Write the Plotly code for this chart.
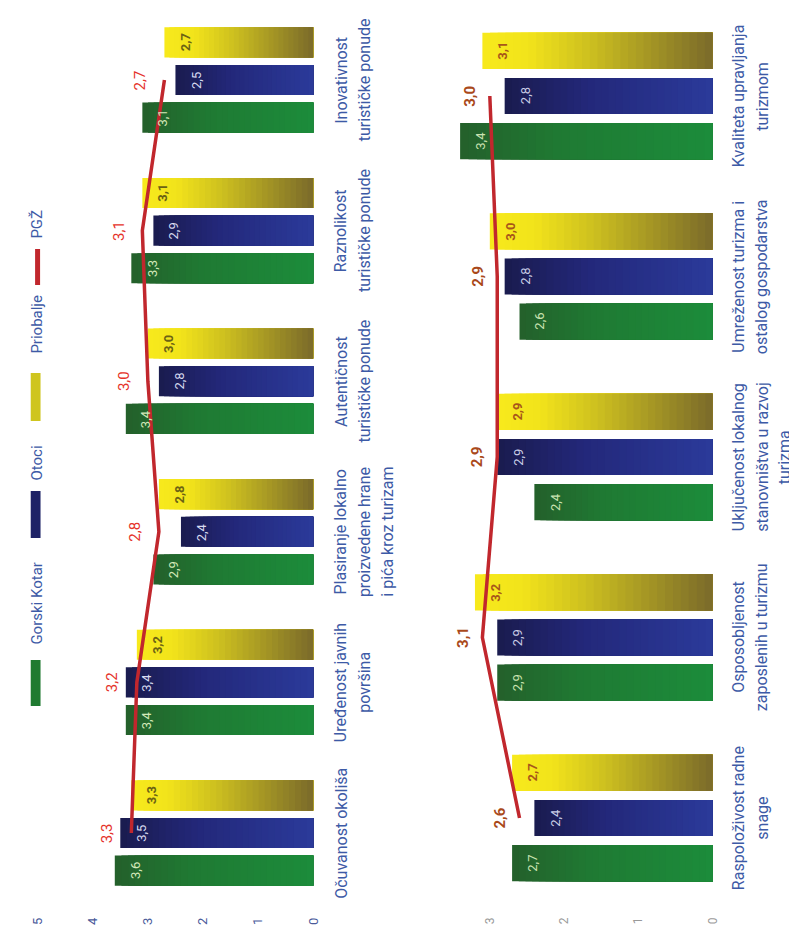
import plotly.graph_objects as go

# ---------------- data ----------------
series_names = ["Gorski Kotar", "Otoci", "Priobalje"]
line_name = "PGŽ"

cats_a = ["Očuvanost okoliša", "Uređenost javnih<br>površina",
          "Plasiranje lokalno<br>proizvedene hrane<br>i pića kroz turizam",
          "Autentičnost<br>turističke ponude", "Raznolikost<br>turističke ponude",
          "Inovativnost<br>turističke ponude"]
gk_a = [3.6, 3.4, 2.9, 3.4, 3.3, 3.1]
ot_a = [3.5, 3.4, 2.4, 2.8, 2.9, 2.5]
pr_a = [3.3, 3.2, 2.8, 3.0, 3.1, 2.7]
pgz_a = [3.3, 3.2, 2.8, 3.0, 3.1, 2.7]

cats_b = ["Raspoloživost radne<br>snage", "Osposobljenost<br>zaposlenih u turizmu",
          "Uključenost lokalnog<br>stanovništva u razvoj<br>turizma",
          "Umreženost turizma i<br>ostalog gospodarstva",
          "Kvaliteta upravljanja<br>turizmom"]
gk_b = [2.7, 2.9, 2.4, 2.6, 3.4]
ot_b = [2.4, 2.9, 2.9, 2.8, 2.8]
pr_b = [2.7, 3.2, 2.9, 3.0, 3.1]
pgz_b = [2.6, 3.1, 2.9, 2.9, 3.0]

ticks_a = [0, 1, 2, 3, 4, 5]
ticks_b = [0, 1, 2, 3]

# ---------------- styling ----------------
W, H = 797, 935
FONT = "Roboto, 'Open Sans', sans-serif"
LABEL_BLUE = "#3d5aa6"

def px(x):
    return x / W

def py(y):
    return 1 - y / H

def hex2rgb(h):
    h = h.lstrip("#")
    return tuple(int(h[i:i + 2], 16) for i in (0, 2, 4))

def interp(stops, t):
    for (p0, c0), (p1, c1) in zip(stops[:-1], stops[1:]):
        if p0 <= t <= p1:
            u = 0 if p1 == p0 else (t - p0) / (p1 - p0)
            a, b = hex2rgb(c0), hex2rgb(c1)
            return "rgb(%d,%d,%d)" % tuple(round(a[i] + (b[i] - a[i]) * u) for i in range(3))
    return stops[-1][1]

# gradient: position 0 = base (value 0), 1 = tip
grad = {
    "Gorski Kotar": [(0, "#1c8c3b"), (0.6, "#1f7a33"), (1, "#24602b")],
    "Otoci": [(0, "#2b3a9a"), (0.6, "#23287a"), (1, "#1a1b4e")],
    "Priobalje": [(0, "#7a6a2a"), (0.55, "#cfc21f"), (0.8, "#f2e31b"), (1, "#f7ea1c")],
}
offsets = {"Gorski Kotar": -0.35, "Otoci": -0.10, "Priobalje": 0.15}
BAR_W = 0.20
N_SEG = 30

fig = go.Figure()

panels = [
    dict(cats=cats_a, vals=[gk_a, ot_a, pr_a], pgz=pgz_a, xa="x", ya="y",
         lab_x=[331, 355, 379], bar_txt={"Gorski Kotar": "#d3e8b8", "Otoci": "#d8dbf0", "Priobalje": "#6b6214"},
         pgz_col="#e5332a", pgz_bold=False, pgz_shift=-24),
    dict(cats=cats_b, vals=[gk_b, ot_b, pr_b], pgz=pgz_b, xa="x2", ya="y2",
         lab_x=[736, 760, 783], bar_txt={"Gorski Kotar": "#c9e2b0", "Otoci": "#c9cde6", "Priobalje": "#a8561a"},
         pgz_col="#a9491a", pgz_bold=True, pgz_shift=-20),
]

annotations = []
for pn in panels:
    names = [c.replace("<br>", " ") for c in pn["cats"]]
    xref, yref = pn["xa"], pn["ya"]
    for sname, vals in zip(series_names, pn["vals"]):
        for k in range(N_SEG, 0, -1):
            t = (k - 0.5) / N_SEG
            fig.add_trace(go.Bar(
                orientation="h", x=[v * k / N_SEG for v in vals], y=names,
                base=0, offset=offsets[sname], width=BAR_W,
                marker=dict(color=interp(grad[sname], t), line=dict(width=0)),
                xaxis=xref, yaxis=yref, showlegend=False,
                name=sname, hoverinfo="skip" if k < N_SEG else None,
                customdata=vals, hovertemplate=sname + ": %{customdata}<extra></extra>",
            ))
        for i, v in enumerate(vals):
            annotations.append(dict(
                x=v, y=i + offsets[sname] + BAR_W / 2, xref=xref, yref=yref,
                text=("<b>%s</b>" if sname == "Priobalje" else "%s") % f"{v:.1f}".replace(".", ","),
                textangle=-90, showarrow=False, xanchor="left", yanchor="middle",
                xshift=11, font=dict(family=FONT, size=13, color=pn["bar_txt"][sname]),
            ))
    fig.add_trace(go.Scatter(
        x=pn["pgz"], y=names, mode="lines", name=line_name,
        line=dict(color="#c1272d", width=3.5), xaxis=xref, yaxis=yref,
        showlegend=False,
    ))
    for i, v in enumerate(pn["pgz"]):
        txt = f"{v:.1f}".replace(".", ",")
        annotations.append(dict(
            x=v, y=i, xref=xref, yref=yref,
            text=("<b>%s</b>" % txt) if pn["pgz_bold"] else txt,
            textangle=-90, showarrow=False, xanchor="center", yanchor="middle",
            xshift=pn["pgz_shift"], font=dict(family=FONT, size=15, color=pn["pgz_col"]),
        ))
    for i, c in enumerate(pn["cats"]):
        for j, line in enumerate(c.split("<br>")):
            annotations.append(dict(
                x=px(pn["lab_x"][j]), xref="paper", y=i, yref=yref,
                text=line, textangle=-90, showarrow=False,
                xanchor="center", yanchor="middle",
                font=dict(family=FONT, size=16, color=LABEL_BLUE),
            ))

# ---------------- manual rotated legend ----------------
shapes = []
leg_swatches = [("Gorski Kotar", 652, 698, "#1f7a30"), ("Otoci", 483, 530, "#1e2266"),
                ("Priobalje", 365, 413, "#cfc51e")]
for nm, y0, y1, col in leg_swatches:
    shapes.append(dict(type="rect", xref="paper", yref="paper",
                       x0=px(15), x1=px(25), y0=py(y1), y1=py(y0),
                       fillcolor=col, line=dict(width=0)))
shapes.append(dict(type="line", xref="paper", yref="paper",
                   x0=px(22), x1=px(22), y0=py(277), y1=py(241),
                   line=dict(color="#c1272d", width=5)))
for nm, yc in [("Gorski Kotar", 595), ("Otoci", 455), ("Priobalje", 316), (line_name, 216)]:
    annotations.append(dict(x=px(21), y=py(yc), xref="paper", yref="paper", text=nm,
                            textangle=-90, showarrow=False, xanchor="center", yanchor="middle",
                            font=dict(family=FONT, size=15, color=LABEL_BLUE)))

# ---------------- axes ----------------
T, B = 4, 906
ydom = [py(B), py(T)]
ax_common = dict(showgrid=False, zeroline=False, showline=False, ticks="", tickangle=-90)

fig.update_layout(
    width=W, height=H, margin=dict(l=0, r=0, t=0, b=0),
    paper_bgcolor="white", plot_bgcolor="white",
    barmode="overlay", showlegend=False,
    font=dict(family=FONT),
    xaxis=dict(domain=[px(22), px(303)], range=[5, 0], tickvals=ticks_a,
               tickfont=dict(size=13, color="#4a5a9a"), anchor="y", **ax_common),
    yaxis=dict(domain=ydom, range=[-(B - 825) / 150.6, 5 + (72 - T) / 150.6],
               showticklabels=False, showgrid=False, zeroline=False, anchor="x",
               categoryorder="array", categoryarray=[c.replace("<br>", " ") for c in cats_a]),
    xaxis2=dict(domain=[px(710 - 3.5 * 75.7), px(710)], range=[3.5, 0], tickvals=ticks_b,
                tickfont=dict(size=12, color="#999999"), anchor="y2", **ax_common),
    yaxis2=dict(domain=ydom, range=[-(B - 810) / 180.5, 4 + (88 - T) / 180.5],
                showticklabels=False, showgrid=False, zeroline=False, anchor="x2",
                categoryorder="array", categoryarray=[c.replace("<br>", " ") for c in cats_b]),
    annotations=annotations, shapes=shapes,
)

fig.write_html("out.html")
